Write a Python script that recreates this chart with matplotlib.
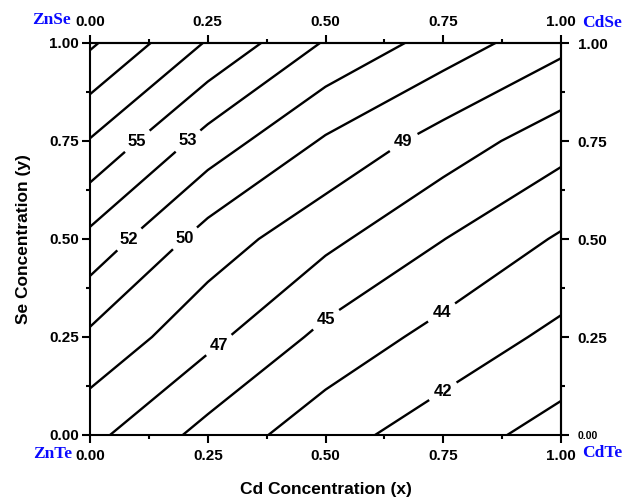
import numpy as np
import matplotlib
matplotlib.use("Agg")
import matplotlib.pyplot as plt
from matplotlib.ticker import MultipleLocator, FormatStrFormatter

# ---- data ----
x_cd = [0.0, 0.25, 0.50, 0.75, 1.0]
y_se = [0.0, 0.25, 0.50, 0.75, 1.0]
z_y000 = [47.44, 44.85, 42.81, 41.36, 39.96]
z_y025 = [49.88, 47.45, 44.95, 43.23, 41.80]
z_y050 = [52.96, 49.50, 47.42, 45.43, 43.60]
z_y075 = [56.50, 52.77, 50.00, 47.92, 46.05]
z_y100 = [60.06, 56.45, 53.25, 51.10, 49.07]
levels = [40.6, 42.2, 43.8, 45.4, 47.0, 48.6, 50.2, 51.8, 53.4, 55.0, 56.6, 58.2, 59.8]
tick_vals = [0.0, 0.25, 0.50, 0.75, 1.0]
corner_names = ["ZnSe", "CdSe", "ZnTe", "CdTe"]

# ---- layout ----
label_spots = [(0.10, 0.75), (0.208, 0.75), (0.085, 0.497), (0.205, 0.497),
               (0.665, 0.748), (0.262, 0.247), (0.499, 0.298), (0.75, 0.306),
               (0.75, 0.11)]

plt.rcParams['font.family'] = ['Liberation Sans', 'DejaVu Sans']
plt.rcParams['font.weight'] = 'bold'

fig = plt.figure(figsize=(6.24, 4.99), dpi=100)
ax = fig.add_axes([90/624, 64/499, 471/624, 392/499])

X, Y = np.meshgrid(x_cd, y_se)
Z = np.array([z_y000, z_y025, z_y050, z_y075, z_y100])

cs = ax.contour(X, Y, Z, levels=levels, colors='black', linewidths=1.7)
texts = ax.clabel(cs, manual=label_spots, inline=True,
                  inline_spacing=7, fmt=lambda v: f"{v:.0f}", fontsize=12)
for t in texts:
    t.set_rotation(0)
    t.set_fontweight('bold')

ax.set_xlim(0, 1)
ax.set_ylim(0, 1)
for s in ax.spines.values():
    s.set_linewidth(1.5)

ax.set_xticks(tick_vals)
ax.set_yticks(tick_vals)
ax.xaxis.set_minor_locator(MultipleLocator(0.125))
ax.yaxis.set_minor_locator(MultipleLocator(0.125))
ax.xaxis.set_major_formatter(FormatStrFormatter('%.2f'))
ax.yaxis.set_major_formatter(FormatStrFormatter('%.2f'))
ax.tick_params(which='major', direction='out', length=6, width=1.5, labelsize=11)
ax.tick_params(which='minor', direction='out', length=3, width=1.5)
ax.tick_params(axis='x', which='major', pad=4)
ax.tick_params(axis='y', which='major', pad=2)

secx = ax.secondary_xaxis('top')
secx.set_xticks(tick_vals)
secx.xaxis.set_minor_locator(MultipleLocator(0.125))
secx.xaxis.set_major_formatter(FormatStrFormatter('%.2f'))
secx.tick_params(which='major', direction='out', length=6, width=1.5, labelsize=11, pad=4)
secx.tick_params(which='minor', direction='out', length=3, width=1.5)
secx.spines['top'].set_linewidth(1.5)

secy = ax.secondary_yaxis('right')
secy.set_yticks(tick_vals)
secy.yaxis.set_minor_locator(MultipleLocator(0.125))
secy.yaxis.set_major_formatter(FormatStrFormatter('%.2f'))
secy.tick_params(which='major', direction='out', length=6, width=1.5, labelsize=11, pad=6)
secy.tick_params(which='minor', direction='out', length=3, width=1.5)
secy.spines['right'].set_linewidth(1.5)
fig.canvas.draw()
ticks_r = secy.yaxis.get_major_ticks()
ticks_r[0].label2.set_fontsize(7.5)
ticks_r[0].label1.set_fontsize(7.5)

ax.set_xlabel('Cd Concentration (x)', fontsize=12.5, fontweight='bold', labelpad=14)
ax.set_ylabel('Se Concentration (y)', fontsize=12.5, fontweight='bold', labelpad=13)

blue = '#0a0aff'
cfont = dict(family=['Liberation Serif', 'DejaVu Serif'], fontweight='bold',
             fontsize=12.5, color=blue, transform=ax.transAxes, va='center')
ax.text(-0.040, 1.059, corner_names[0], ha='right', **cfont)
ax.text(1.044, 1.051, corner_names[1], ha='left', **cfont)
ax.text(-0.037, -0.048, corner_names[2], ha='right', **cfont)
ax.text(1.044, -0.045, corner_names[3], ha='left', **cfont)

fig.savefig('out.png', dpi=100)
